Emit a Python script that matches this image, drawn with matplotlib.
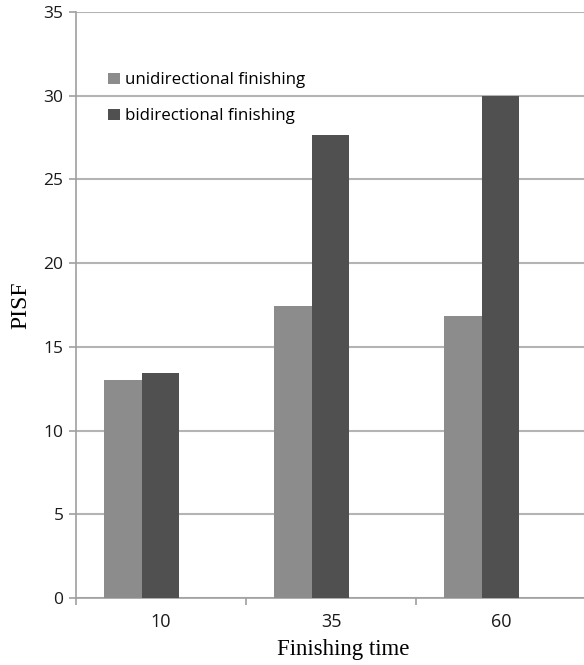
import numpy as np
from matplotlib import pyplot as plt

times = ["10", "35", "60"]
unidirectional = [13.0, 17.45, 16.85]
bidirectional = [13.42, 27.66, 30.0]
yticks = [0, 5, 10, 15, 20, 25, 30, 35]

fig = plt.figure(figsize=(5.84, 6.65), dpi=100)
# plot area: x 76..586 px, y 12..598 px
ax = fig.add_axes([76/584, 67/665, 510/584, 586/665])

x = np.arange(len(times))
w = 0.22
shift = -0.113  # bar groups sit a little left of the category centre
ax.bar(x + shift - w/2, unidirectional, w, color="#8c8c8c", label="unidirectional finishing", zorder=3)
ax.bar(x + shift + w/2, bidirectional, w, color="#505050", label="bidirectional finishing", zorder=3)

ax.set_ylim(0, 35)
ax.set_xlim(-0.5, 2.5)
ax.set_yticks(yticks)
ax.set_xticks(x)
ax.set_xticklabels(times)
ax.set_xticks([-0.5, 0.5, 1.5, 2.5], minor=True)
ax.tick_params(axis="x", which="major", length=0, pad=11, labelsize=13)
ax.tick_params(axis="x", which="minor", length=5, color="#a0a0a0", width=1.2)
ax.tick_params(axis="y", length=5, color="#a0a0a0", width=1.2, labelsize=12.5, pad=4)
for lbl in ax.get_xticklabels() + ax.get_yticklabels():
    lbl.set_fontfamily("Open Sans")
    lbl.set_color("#1a1a1a")

ax.grid(axis="y", color="#b4b4b4", linewidth=1.5, zorder=0)
for s in ["top", "right"]:
    ax.spines[s].set_visible(False)
for s in ["left", "bottom"]:
    ax.spines[s].set_color("#a0a0a0")
    ax.spines[s].set_linewidth(1.2)

ax.set_xlabel("Finishing time", fontfamily="Liberation Serif", fontsize=16.5)
ax.xaxis.set_label_coords(0.5235, -0.07)
ax.set_ylabel("PISF", fontfamily="Liberation Serif", fontsize=17, labelpad=9)

ax.legend(loc="upper left", bbox_to_anchor=(100/584, 1 - 64/665), bbox_transform=fig.transFigure,
          frameon=False, handlelength=0.7, handleheight=0.7, handletextpad=0.3,
          labelspacing=1.18, borderpad=0, prop={"family": "Open Sans", "size": 12.2})

fig.savefig("out.png", dpi=100)
